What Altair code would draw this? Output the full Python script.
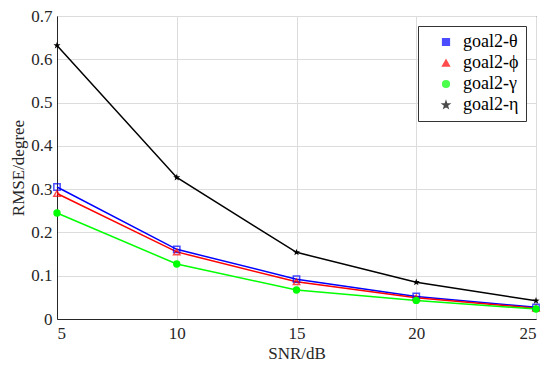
import altair as alt
import pandas as pd

snr = [5, 10, 15, 20, 25]
series_names = ["goal2-θ", "goal2-ϕ", "goal2-γ", "goal2-η"]
theta = [0.305, 0.161, 0.092, 0.052, 0.027]
phi = [0.290, 0.155, 0.086, 0.049, 0.025]
gamma = [0.245, 0.127, 0.067, 0.043, 0.023]
eta = [0.632, 0.327, 0.154, 0.085, 0.042]
colors = ["#0000ff", "#ff0000", "#00ff00", "#000000"]
star = "M0,-1L0.235,-0.324L0.951,-0.309L0.38,0.124L0.588,0.809L0,0.4L-0.588,0.809L-0.38,0.124L-0.951,-0.309L-0.235,-0.324Z"
shapes = ["square", "triangle-up", "circle", star]
filled_flags = [False, False, True, True]

rows = []
for name, vals, f in zip(series_names, [theta, phi, gamma, eta], filled_flags):
    for x, y in zip(snr, vals):
        rows.append({"SNR": x, "RMSE": y, "series": name, "filled": f})
df = pd.DataFrame(rows)

font = "Liberation Serif"
legend = alt.Legend(title=None, orient="top-right", offset=10,
                    strokeColor="#333333", fillColor="white", padding=7,
                    labelFont=font, labelFontSize=18, labelColor="#000000", symbolSize=45,
                    symbolStrokeWidth=1.5, rowPadding=3, labelLimit=200,
                    symbolOffset=12, labelOffset=8)
x_enc = alt.X("SNR:Q", scale=alt.Scale(domain=[5, 25], nice=False),
              axis=alt.Axis(values=snr, title="SNR/dB", grid=True, ticks=False, labelPadding=6, titlePadding=4))
y_enc = alt.Y("RMSE:Q", scale=alt.Scale(domain=[0, 0.7], nice=False),
              axis=alt.Axis(values=[0, 0.1, 0.2, 0.3, 0.4, 0.5, 0.6, 0.7], title="RMSE/degree",
                            labelExpr="datum.value == 0 ? '0' : format(datum.value, '.1f')",
                            grid=True, ticks=False, labelPadding=5, titlePadding=3))
color_enc = alt.Color("series:N", scale=alt.Scale(domain=series_names, range=colors), legend=legend)
shape_enc = alt.Shape("series:N", scale=alt.Scale(domain=series_names, range=shapes), legend=legend)

lines = alt.Chart(df).mark_line(strokeWidth=1.5).encode(x=x_enc, y=y_enc, color=color_enc)
pts_hollow = alt.Chart(df).transform_filter("!datum.filled").mark_point(filled=False, size=40, strokeWidth=1.5).encode(
    x=x_enc, y=y_enc, color=color_enc, shape=shape_enc)
pts_filled = alt.Chart(df).transform_filter("datum.filled").mark_point(filled=True, size=55, opacity=1).encode(
    x=x_enc, y=y_enc, color=color_enc, shape=shape_enc)

chart = (lines + pts_hollow + pts_filled).properties(
    width=479, height=303,
    background="white",
    autosize=alt.AutoSizeParams(type="none"),
    padding={"left": 49, "top": 8, "right": 6, "bottom": 50},
).configure(
    font=font,
    view=alt.ViewConfig(stroke="#262626", strokeWidth=1),
    axis=alt.AxisConfig(labelFont=font, titleFont=font, labelFontSize=17, titleFontSize=17,
                        labelColor="#262626", titleColor="#262626", titleFontWeight="normal",
                        gridColor="#dcdcdc", gridWidth=1, domainColor="#262626"),
    legend=alt.LegendConfig(labelFont=font, labelFontSize=18, labelColor="#000000"),
)

chart.save("out.html", embed_options={"renderer": "svg", "actions": False})
